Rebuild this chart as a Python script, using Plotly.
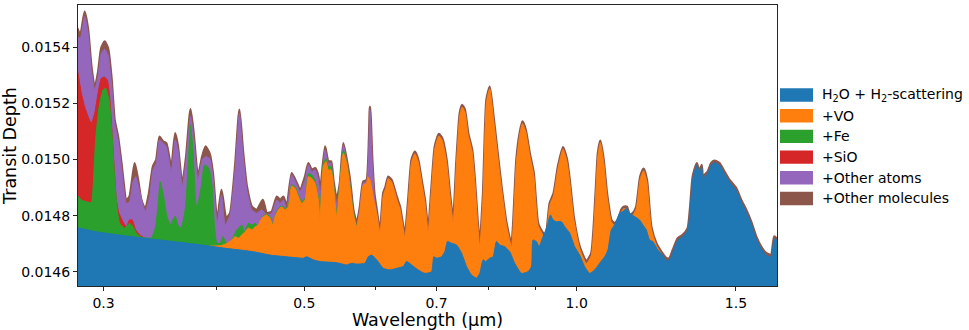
import math
import plotly.graph_objects as go

# ---------------- data (wavelength in micron, transit depth) ----------------
wl_brown = [0.2805, 0.2828, 0.2859, 0.2884, 0.2908, 0.2933, 0.2958, 0.2983, 0.3008, 0.3034,
            0.3060, 0.3085, 0.3112, 0.3139, 0.3179, 0.3205, 0.3247, 0.3275, 0.3302, 0.3336,
            0.3368, 0.3402, 0.3431, 0.3459, 0.3489, 0.3519, 0.3564, 0.3600, 0.3625, 0.3665,
            0.3702, 0.3743, 0.3772, 0.3814, 0.3856, 0.3888, 0.3928, 0.3962, 0.4005, 0.4050,
            0.4098, 0.4140, 0.4193, 0.4239, 0.4276, 0.4320, 0.4375, 0.4431, 0.4499, 0.4545,
            0.4603, 0.4662, 0.4701, 0.4741, 0.4782, 0.4843, 0.4905, 0.4946, 0.5010, 0.5052,
            0.5096, 0.5139, 0.5182, 0.5204, 0.5271, 0.5315, 0.5352, 0.5383, 0.5430, 0.5475,
            0.5522, 0.5569, 0.5616, 0.5664, 0.5713, 0.5761, 0.5810, 0.5860, 0.5910, 0.5944,
            0.5975, 0.6011, 0.6062, 0.6113, 0.6150, 0.6191, 0.6244, 0.6324, 0.6378, 0.6459,
            0.6514, 0.6570, 0.6625, 0.6681, 0.6739, 0.6796, 0.6853, 0.6913, 0.6970, 0.7042,
            0.7101, 0.7181, 0.7242, 0.7303, 0.7366, 0.7428, 0.7471, 0.7523, 0.7587, 0.7664,
            0.7717, 0.7770, 0.7815, 0.7881, 0.7949, 0.8016, 0.8084, 0.8154, 0.8258, 0.8364,
            0.8471, 0.8505, 0.8579, 0.8651, 0.8711, 0.8784, 0.8874, 0.8965, 0.9064, 0.9180,
            0.9242, 0.9337, 0.9432, 0.9536, 0.9658, 0.9756, 0.9824, 0.9924, 1.0076, 1.0250,
            1.0381, 1.0495, 1.0556, 1.0621, 1.0710, 1.0800, 1.0922, 1.1014, 1.1107, 1.1203,
            1.1268, 1.1363, 1.1442, 1.1538, 1.1638, 1.1757, 1.1857, 1.1957, 1.2090, 1.2245,
            1.2402, 1.2561, 1.2666, 1.2773, 1.2936, 1.3101, 1.3269, 1.3350, 1.3438, 1.3576,
            1.3669, 1.3749, 1.3785, 1.3844, 1.3961, 1.4082, 1.4201, 1.4382, 1.4566, 1.4752,
            1.5005, 1.5197, 1.5391, 1.5588, 1.5787, 1.5989, 1.6193, 1.6400, 1.6538, 1.6700]
td_brown = [0.015467, 0.015443, 0.015526, 0.015461, 0.015331, 0.015254, 0.015308, 0.015397, 0.015420, 0.015396,
            0.015295, 0.015141, 0.015081, 0.014988, 0.014856, 0.014868, 0.014987, 0.014927, 0.014856, 0.014823,
            0.014880, 0.014975, 0.014999, 0.015081, 0.015064, 0.015058, 0.014969, 0.015094, 0.015046, 0.014910,
            0.015010, 0.015179, 0.015094, 0.014939, 0.015010, 0.015046, 0.015022, 0.014951, 0.014779, 0.014892,
            0.014791, 0.014809, 0.014975, 0.015177, 0.015034, 0.014904, 0.014832, 0.014821, 0.014856, 0.014809,
            0.014815, 0.014868, 0.014856, 0.014868, 0.014832, 0.014951, 0.014916, 0.014892, 0.014939, 0.014987,
            0.014963, 0.014969, 0.014939, 0.014880, 0.015046, 0.014993, 0.014993, 0.014927, 0.014856, 0.014916,
            0.015058, 0.014999, 0.014927, 0.014821, 0.014773, 0.014832, 0.014921, 0.014927, 0.015188, 0.014999,
            0.014880, 0.014821, 0.014743, 0.014880, 0.014904, 0.014939, 0.014927, 0.014868, 0.014832, 0.014732,
            0.014856, 0.014999, 0.015028, 0.014999, 0.014927, 0.014856, 0.014750, 0.014904, 0.015046, 0.015091,
            0.015076, 0.014999, 0.014880, 0.014785, 0.014999, 0.015165, 0.015194, 0.015177, 0.015094, 0.015034,
            0.014927, 0.014785, 0.014696, 0.014880, 0.015212, 0.015259, 0.015165, 0.015058, 0.014904, 0.014773,
            0.014696, 0.014761, 0.014999, 0.015094, 0.015135, 0.015105, 0.015022, 0.014951, 0.014773, 0.014738,
            0.014726, 0.014844, 0.014880, 0.014975, 0.015044, 0.014999, 0.014927, 0.014797, 0.014690, 0.014637,
            0.014667, 0.014880, 0.015022, 0.015067, 0.014999, 0.014880, 0.014785, 0.014773, 0.014785, 0.014821,
            0.014832, 0.014832, 0.014803, 0.014809, 0.014832, 0.014939, 0.014967, 0.014927, 0.014761, 0.014702,
            0.014672, 0.014649, 0.014649, 0.014678, 0.014720, 0.014732, 0.014756, 0.014832, 0.014939, 0.014987,
            0.014957, 0.014981, 0.014927, 0.014945, 0.014957, 0.014987, 0.014996, 0.014987, 0.014957, 0.014927,
            0.014898, 0.014856, 0.014821, 0.014779, 0.014726, 0.014690, 0.014667, 0.014660, 0.014726, 0.014714]

wl_purple = [0.2805, 0.2828, 0.2859, 0.2884, 0.2908, 0.2933, 0.2958, 0.2983, 0.3008, 0.3034,
             0.3060, 0.3085, 0.3112, 0.3139, 0.3179, 0.3205, 0.3233, 0.3255, 0.3283, 0.3317,
             0.3336, 0.3373, 0.3402, 0.3431, 0.3459, 0.3495, 0.3519, 0.3564, 0.3600, 0.3625,
             0.3665, 0.3702, 0.3743, 0.3772, 0.3814, 0.3856, 0.3888, 0.3928, 0.3962, 0.4005,
             0.4050, 0.4088, 0.4140, 0.4193, 0.4239, 0.4276, 0.4320, 0.4375, 0.4431, 0.4487,
             0.4545, 0.4603, 0.4662, 0.4701, 0.4741, 0.4782, 0.4843, 0.4905, 0.4946, 0.5010,
             0.5052, 0.5096, 0.5139, 0.5182, 0.5204, 0.5271, 0.5315, 0.5352, 0.5383, 0.5430,
             0.5475, 0.5522, 0.5569, 0.5616, 0.5664, 0.5713, 0.5761, 0.5810, 0.5860, 0.5910,
             0.5944, 0.5975, 0.6011, 0.6062]
td_purple = [0.015437, 0.015432, 0.015509, 0.015450, 0.015319, 0.015248, 0.015295, 0.015378, 0.015393, 0.015372,
             0.015277, 0.015129, 0.015070, 0.014975, 0.014844, 0.014850, 0.014921, 0.014939, 0.014898, 0.014838,
             0.014815, 0.014868, 0.014963, 0.014987, 0.015070, 0.015056, 0.015046, 0.014957, 0.015070, 0.015034,
             0.014904, 0.014999, 0.015153, 0.015081, 0.014927, 0.014999, 0.015010, 0.015005, 0.014939, 0.014773,
             0.014874, 0.014767, 0.014803, 0.014963, 0.015165, 0.015022, 0.014892, 0.014821, 0.014809, 0.014821,
             0.014803, 0.014809, 0.014856, 0.014844, 0.014856, 0.014821, 0.014945, 0.014910, 0.014886, 0.014927,
             0.014981, 0.014957, 0.014963, 0.014927, 0.014868, 0.015034, 0.014987, 0.014987, 0.014916, 0.014844,
             0.014910, 0.015052, 0.014993, 0.014921, 0.014809, 0.014761, 0.014827, 0.014916, 0.014921, 0.015177,
             0.014987, 0.014868, 0.014809, 0.014738]

wl_red = [0.2805, 0.2835, 0.2859, 0.2884, 0.2908, 0.2933, 0.2958, 0.2983, 0.3008, 0.3029,
          0.3047, 0.3068, 0.3085, 0.3099, 0.3120, 0.3152, 0.3179, 0.3205, 0.3227, 0.3255,
          0.3288, 0.3317]
td_red = [0.015325, 0.015236, 0.015188, 0.015153, 0.015129, 0.015165, 0.015236, 0.015289, 0.015293, 0.015283,
          0.015225, 0.015075, 0.014951, 0.014856, 0.014809, 0.014779, 0.014761, 0.014785, 0.014785, 0.014750,
          0.014732, 0.014724]

wl_green = [0.2805, 0.2835, 0.2871, 0.2908, 0.2921, 0.2940, 0.2966, 0.2996, 0.3016, 0.3042,
            0.3068, 0.3085, 0.3104, 0.3125, 0.3165, 0.3205, 0.3233, 0.3261, 0.3302, 0.3387,
            0.3424, 0.3445, 0.3466, 0.3495, 0.3525, 0.3558, 0.3579, 0.3600, 0.3625, 0.3655,
            0.3696, 0.3728, 0.3743, 0.3766, 0.3791, 0.3805, 0.3846, 0.3879, 0.3922, 0.3955,
            0.3979, 0.4003, 0.4037, 0.4065, 0.4098, 0.4140, 0.4175, 0.4211, 0.4247, 0.4265,
            0.4290, 0.4337, 0.4375, 0.4412, 0.4449, 0.4487, 0.4506, 0.4545, 0.4583, 0.4615,
            0.4642, 0.4681, 0.4722, 0.4761, 0.4801, 0.4843, 0.4883, 0.4925, 0.4968, 0.5010,
            0.5052, 0.5096, 0.5139, 0.5182, 0.5204, 0.5248, 0.5284, 0.5315, 0.5352, 0.5383,
            0.5430, 0.5475, 0.5522, 0.5569, 0.5616, 0.5664, 0.5713]
td_green = [0.014874, 0.014856, 0.014850, 0.014847, 0.014904, 0.015070, 0.015188, 0.015248, 0.015254, 0.015212,
            0.015070, 0.014939, 0.014832, 0.014773, 0.014756, 0.014773, 0.014761, 0.014738, 0.014724, 0.014721,
            0.014761, 0.014832, 0.014921, 0.014868, 0.014797, 0.014767, 0.014785, 0.014799, 0.014767, 0.014756,
            0.014832, 0.015034, 0.015123, 0.015034, 0.014856, 0.014827, 0.014904, 0.014981, 0.014969, 0.014904,
            0.014761, 0.014702, 0.014702, 0.014726, 0.014702, 0.014708, 0.014726, 0.014750, 0.014761, 0.014767,
            0.014743, 0.014773, 0.014767, 0.014773, 0.014756, 0.014785, 0.014800, 0.014806, 0.014795, 0.014772,
            0.014800, 0.014825, 0.014836, 0.014825, 0.014836, 0.014910, 0.014903, 0.014875, 0.014850, 0.014862,
            0.014950, 0.014945, 0.014925, 0.014865, 0.014805, 0.014985, 0.015003, 0.014975, 0.014975, 0.014925,
            0.014810, 0.014924, 0.015033, 0.014993, 0.014912, 0.014816, 0.014761]

wl_orange = [0.3928, 0.4050, 0.4106, 0.4158, 0.4193, 0.4229, 0.4265, 0.4301, 0.4337, 0.4375,
             0.4412, 0.4449, 0.4476, 0.4506, 0.4545, 0.4583, 0.4615, 0.4642, 0.4681, 0.4722,
             0.4761, 0.4801, 0.4843, 0.4883, 0.4925, 0.4968, 0.5010, 0.5052, 0.5096, 0.5139,
             0.5182, 0.5204, 0.5248, 0.5284, 0.5315, 0.5352, 0.5383, 0.5430, 0.5475, 0.5522,
             0.5569, 0.5616, 0.5664, 0.5713, 0.5761, 0.5810, 0.5860, 0.5875, 0.5910, 0.5959,
             0.6011, 0.6062, 0.6113, 0.6150, 0.6191, 0.6244, 0.6324, 0.6378, 0.6459, 0.6514,
             0.6570, 0.6625, 0.6681, 0.6739, 0.6796, 0.6853, 0.6913, 0.6970, 0.7042, 0.7101,
             0.7181, 0.7242, 0.7303, 0.7366, 0.7428, 0.7471, 0.7523, 0.7587, 0.7664, 0.7717,
             0.7770, 0.7815, 0.7881, 0.7949, 0.8016, 0.8084, 0.8154, 0.8258, 0.8364, 0.8471,
             0.8505, 0.8579, 0.8651, 0.8711, 0.8784, 0.8874, 0.8965, 0.9064, 0.9180, 0.9242,
             0.9337, 0.9432, 0.9536, 0.9658, 0.9756, 0.9824, 0.9924, 1.0076, 1.0250, 1.0381,
             1.0495, 1.0556, 1.0621, 1.0710, 1.0800, 1.0922, 1.1014, 1.1107, 1.1203, 1.1268,
             1.1363, 1.1442, 1.1538, 1.1638, 1.1757, 1.1857, 1.1957, 1.2090, 1.2245, 1.2402]
td_orange = [0.014692, 0.014694, 0.014702, 0.014714, 0.014726, 0.014720, 0.014732, 0.014743, 0.014756, 0.014750,
             0.014761, 0.014767, 0.014785, 0.014797, 0.014803, 0.014791, 0.014767, 0.014797, 0.014821, 0.014832,
             0.014821, 0.014832, 0.014906, 0.014898, 0.014868, 0.014844, 0.014856, 0.014939, 0.014933, 0.014916,
             0.014856, 0.014791, 0.014975, 0.014993, 0.014963, 0.014963, 0.014916, 0.014797, 0.014916, 0.015022,
             0.014987, 0.014904, 0.014809, 0.014761, 0.014821, 0.014910, 0.014916, 0.014939, 0.014927, 0.014868,
             0.014809, 0.014738, 0.014873, 0.014897, 0.014932, 0.014920, 0.014861, 0.014825, 0.014725, 0.014849,
             0.014992, 0.015021, 0.014992, 0.014920, 0.014849, 0.014743, 0.014897, 0.015039, 0.015084, 0.015069,
             0.014992, 0.014873, 0.014778, 0.014992, 0.015158, 0.015187, 0.015170, 0.015087, 0.015027, 0.014920,
             0.014778, 0.014689, 0.014873, 0.015205, 0.015252, 0.015158, 0.015051, 0.014897, 0.014766, 0.014689,
             0.014754, 0.014992, 0.015087, 0.015128, 0.015098, 0.015015, 0.014944, 0.014766, 0.014731, 0.014719,
             0.014837, 0.014873, 0.014968, 0.015037, 0.014992, 0.014920, 0.014790, 0.014683, 0.014630, 0.014660,
             0.014873, 0.015015, 0.015060, 0.014992, 0.014873, 0.014778, 0.014766, 0.014778, 0.014814, 0.014825,
             0.014825, 0.014796, 0.014802, 0.014825, 0.014932, 0.014960, 0.014920, 0.014754, 0.014695, 0.014665]

wl_blue = [0.2805, 0.2945, 0.3179, 0.3459, 0.3766, 0.4098, 0.4393, 0.4583, 0.4782, 0.4988,
           0.5031, 0.5117, 0.5204, 0.5430, 0.5569, 0.5641, 0.5713, 0.5834, 0.5884, 0.5935,
           0.6011, 0.6113, 0.6218, 0.6324, 0.6431, 0.6487, 0.6570, 0.6681, 0.6796, 0.6913,
           0.6953, 0.7001, 0.7090, 0.7150, 0.7199, 0.7273, 0.7366, 0.7460, 0.7556, 0.7652,
           0.7750, 0.7815, 0.7881, 0.7929, 0.8016, 0.8084, 0.8154, 0.8223, 0.8328, 0.8434,
           0.8542, 0.8689, 0.8836, 0.8913, 0.8949, 0.9027, 0.9086, 0.9180, 0.9273, 0.9354,
           0.9416, 0.9497, 0.9618, 0.9700, 0.9824, 0.9949, 1.0076, 1.0205, 1.0336, 1.0468,
           1.0602, 1.0738, 1.0828, 1.0922, 1.1014, 1.1155, 1.1249, 1.1346, 1.1442, 1.1588,
           1.1736, 1.1835, 1.1938, 1.2038, 1.2140, 1.2295, 1.2402, 1.2561, 1.2666, 1.2773,
           1.2936, 1.3101, 1.3269, 1.3350, 1.3438, 1.3576, 1.3669, 1.3749, 1.3785, 1.3844,
           1.3961, 1.4082, 1.4201, 1.4382, 1.4566, 1.4752, 1.5005, 1.5197, 1.5391, 1.5588,
           1.5787, 1.5989, 1.6193, 1.6400, 1.6538, 1.6700]
td_blue = [0.014758, 0.014743, 0.014728, 0.014714, 0.014700, 0.014684, 0.014672, 0.014660, 0.014654, 0.014649,
           0.014654, 0.014643, 0.014637, 0.014633, 0.014625, 0.014631, 0.014628, 0.014631, 0.014654, 0.014660,
           0.014643, 0.014613, 0.014607, 0.014613, 0.014619, 0.014637, 0.014625, 0.014607, 0.014595, 0.014601,
           0.014654, 0.014649, 0.014654, 0.014672, 0.014708, 0.014702, 0.014696, 0.014667, 0.014619, 0.014589,
           0.014578, 0.014595, 0.014643, 0.014637, 0.014649, 0.014654, 0.014708, 0.014696, 0.014690, 0.014672,
           0.014631, 0.014595, 0.014601, 0.014619, 0.014714, 0.014708, 0.014690, 0.014726, 0.014761, 0.014803,
           0.014785, 0.014779, 0.014779, 0.014761, 0.014738, 0.014690, 0.014660, 0.014619, 0.014595, 0.014607,
           0.014631, 0.014654, 0.014678, 0.014750, 0.014767, 0.014809, 0.014815, 0.014827, 0.014809, 0.014797,
           0.014785, 0.014767, 0.014750, 0.014714, 0.014708, 0.014678, 0.014665, 0.014642, 0.014642, 0.014671,
           0.014713, 0.014725, 0.014749, 0.014825, 0.014932, 0.014980, 0.014950, 0.014974, 0.014920, 0.014938,
           0.014950, 0.014980, 0.014989, 0.014980, 0.014950, 0.014920, 0.014891, 0.014849, 0.014814, 0.014772,
           0.014719, 0.014683, 0.014660, 0.014653, 0.014719, 0.014707]

legend_labels = ["H<sub>2</sub>O + H<sub>2</sub>-scattering", "+VO", "+Fe", "+SiO",
                 "+Other atoms", "+Other molecules"]
colors = {"blue": "#1f77b4", "orange": "#ff7f0e", "green": "#2ca02c",
          "red": "#d62728", "purple": "#9467bd", "brown": "#8c564b"}

x_tickvals = [0.3, 0.5, 0.7, 1.0, 1.5]
x_ticktext = ["0.3", "0.5", "0.7", "1.0", "1.5"]
x_minorvals = [0.4, 0.6, 0.8, 0.9]
y_tickvals = [0.0146, 0.0148, 0.0150, 0.0152, 0.0154]

# ---------------- figure ----------------
fig = go.Figure()
layers = [
    (wl_brown, td_brown, colors["brown"], 2.5),
    (wl_purple, td_purple, colors["purple"], 1),
    (wl_red, td_red, colors["red"], 1),
    (wl_green, td_green, colors["green"], 1),
    (wl_orange, td_orange, colors["orange"], 1),
    (wl_blue, td_blue, colors["blue"], 1),
]
for x, y, c, lw in layers:
    fig.add_trace(go.Scatter(x=x, y=y, mode="lines", fill="tozeroy", fillcolor=c,
                             line=dict(width=lw, color=c, shape="spline", smoothing=0.5),
                             showlegend=False, hoverinfo="skip"))

# manual legend (matplotlib-like, outside right)
L, R, T, B = 78, 777, 5, 286
W, H = R - L, B - T
legend_cols = [colors["blue"], colors["orange"], colors["green"], colors["red"],
               colors["purple"], colors["brown"]]
shapes = []
annotations = []
for i, (lab, col) in enumerate(zip(legend_labels, legend_cols)):
    cy = 95.0 + i * 20.7
    shapes.append(dict(type="rect", xref="paper", yref="paper",
                       x0=(780 - L) / W, x1=(813 - L) / W,
                       y0=(B - (cy + 6.7)) / H, y1=(B - (cy - 6.7)) / H,
                       fillcolor=col, line=dict(width=0)))
    annotations.append(dict(text=lab, xref="paper", yref="paper",
                            x=(820 - L) / W, y=(B - cy) / H,
                            xanchor="left", yanchor="middle", showarrow=False,
                            font=dict(family="DejaVu Sans", size=14, color="#000")))

axis_line = "#262626"
fig.update_layout(
    width=969, height=330,
    margin=dict(l=L, r=969 - R, t=T, b=330 - B, pad=0),
    paper_bgcolor="white", plot_bgcolor="white",
    font=dict(family="DejaVu Sans", size=14, color="#000"),
    shapes=shapes, annotations=annotations,
    xaxis=dict(type="log", range=[math.log10(0.2811), math.log10(1.665)],
               tickmode="array", tickvals=x_tickvals, ticktext=x_ticktext,
               ticks="outside", ticklen=4, tickwidth=1, tickcolor=axis_line,
               minor=dict(tickmode="array", tickvals=x_minorvals, ticks="outside",
                          ticklen=3, tickwidth=1, tickcolor=axis_line, showgrid=False),
               showline=True, mirror=True, linecolor=axis_line, linewidth=1,
               showgrid=False, zeroline=False, automargin=False,
               tickfont=dict(size=14),
               title=dict(text="Wavelength (µm)", font=dict(size=17.5), standoff=6)),
    yaxis=dict(range=[0.01455, 0.01555], tickmode="array", tickvals=y_tickvals,
               tickformat=".4f", ticks="outside", ticklen=4, tickwidth=1,
               tickcolor=axis_line, showline=True, mirror=True, linecolor=axis_line,
               linewidth=1, showgrid=False, zeroline=False, automargin=False,
               tickfont=dict(size=14),
               title=dict(text="Transit Depth", font=dict(size=17.5), standoff=6)),
)

fig.write_html("out.html", config={"displayModeBar": False},
               post_script="document.body.style.margin='0';document.body.style.padding='0';")
